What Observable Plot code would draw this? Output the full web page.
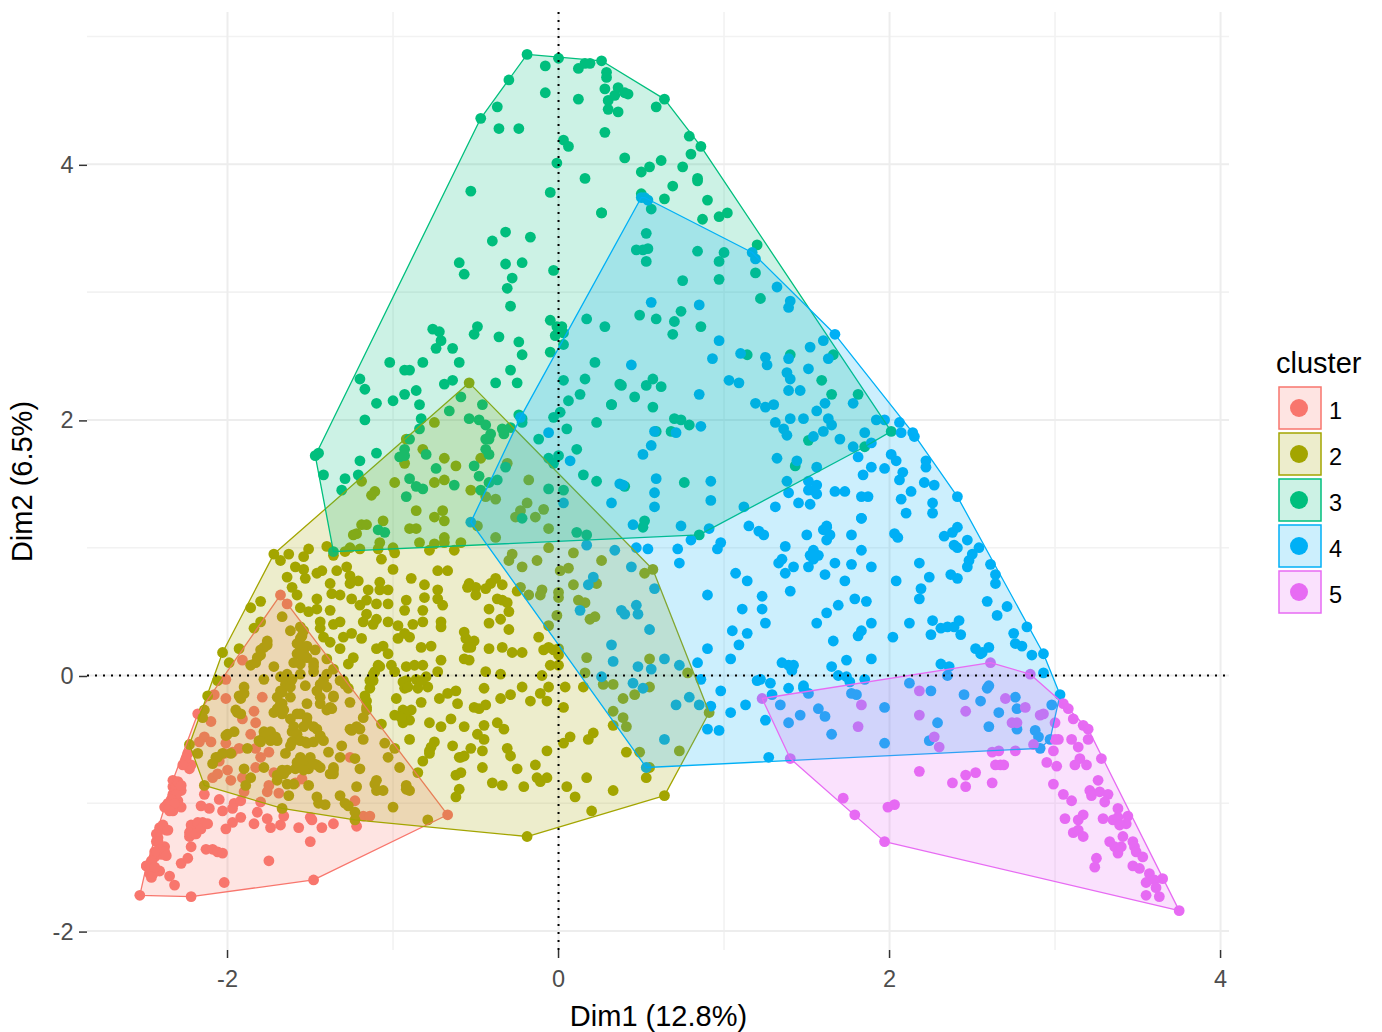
<!DOCTYPE html>
<html>
<head>
<meta charset="utf-8">
<script src="https://cdn.jsdelivr.net/npm/d3@7"></script>
<script src="https://cdn.jsdelivr.net/npm/@observablehq/plot@0.6"></script>
<style>
html,body{margin:0;padding:0;background:#fff;overflow:hidden}
#wrap{position:relative;width:1382px;height:1032px}
#legend{position:absolute;left:0;top:0;pointer-events:none}
</style>
</head>
<body>
<div id="wrap"></div>
<script>
const categories = ["1","2","3","4","5"];
const colors = ["#F8766D","#A3A500","#00BF7D","#00B0F6","#E76BF3"];
const majorTicks = [-2,0,2,4];
const minorX = [-1,1,3];
const minorY = [-1,1,3,5];
const xDomain = [-2.846,4.054];
const yDomain = [-2.152,5.188];
const xTitle = "Dim1 (12.8%)";
const yTitle = "Dim2 (6.5%)";
const legendTitle = "cluster";

const cluster1 = [[-2.53,-1.72],[-2.22,-1.73],[-1.48,-1.60],[-0.67,-1.09],[-1.64,0.56],[-1.68,0.63],[-1.91,0.12],[-2.01,-0.03],[-2.01,-0.18],[-2.08,-0.15],[-2.18,-0.30],[-2.10,-0.36],[-1.79,-0.17],[-1.84,-0.28],[-1.91,-0.34],[-1.83,-0.37],[-1.86,-0.46],[-2.14,-0.48],[-2.17,-0.52],[-2.10,-0.52],[-2.01,-0.53],[-2.02,-0.61],[-1.93,-0.57],[-1.97,-0.60],[-1.75,-0.60],[-1.80,-0.64],[-1.83,-0.57],[-1.26,-0.64],[-2.26,-0.69],[-2.22,-0.70],[-2.24,-0.61],[-2.05,-0.67],[-2.09,-0.80],[-2.06,-0.77],[-2.00,-0.74],[-1.98,-0.82],[-1.91,-0.80],[-1.83,-0.72],[-1.72,-0.76],[-1.55,-0.81],[-1.59,-0.84],[-1.75,-0.86],[-1.76,-0.91],[-1.69,-0.92],[-1.90,-0.91],[-2.31,-0.85],[-2.33,-0.93],[-2.28,-0.90],[-2.30,-0.98],[-2.35,-1.00],[-2.28,-1.03],[-2.33,-1.06],[-2.37,-1.02],[-2.14,-0.93],[-2.16,-1.02],[-2.11,-1.04],[-2.05,-0.97],[-1.96,-1.00],[-1.92,-0.98],[-1.97,-1.04],[-2.03,-1.06],[-1.80,-0.99],[-1.82,-1.07],[-1.76,-1.12],[-1.84,-1.16],[-1.74,-1.19],[-1.68,-1.17],[-1.66,-1.10],[-1.50,-1.11],[-1.49,-1.13],[-1.57,-1.19],[-1.43,-1.19],[-1.36,-1.16],[-1.22,-1.18],[-1.23,-0.98],[-1.18,-1.10],[-1.14,-1.10],[-1.92,-1.11],[-1.97,-1.15],[-2.01,-1.20],[-2.16,-1.16],[-2.19,-1.19],[-2.22,-1.21],[-2.23,-1.26],[-2.15,-1.15],[-2.20,-1.24],[-2.41,-1.19],[-2.37,-1.21],[-2.42,-1.27],[-2.43,-1.30],[-2.38,-1.34],[-2.40,-1.40],[-2.44,-1.42],[-2.46,-1.46],[-2.49,-1.49],[-2.47,-1.55],[-2.46,-1.58],[-2.41,-1.53],[-2.35,-1.57],[-2.32,-1.64],[-2.28,-1.47],[-2.24,-1.43],[-2.22,-1.34],[-2.13,-1.36],[-2.09,-1.36],[-2.06,-1.38],[-2.03,-1.39],[-1.50,-1.30],[-1.75,-1.45],[-2.02,-1.62],
[-2.33,-0.87],[-2.31,-0.93],[-2.34,-0.97],[-2.36,-1.00],[-2.32,-1.00],[-2.35,-1.06],[-2.38,-1.03],[-2.33,-0.82],[-2.30,-0.83],[-2.28,-0.86],[-2.41,-1.21],[-2.43,-1.24],[-2.39,-1.17],[-2.36,-1.21],[-2.42,-1.30],[-2.41,-1.36],[-2.38,-1.38],[-2.37,-1.41],[-2.44,-1.38],[-2.46,-1.45],[-2.49,-1.49],[-2.47,-1.51],[-2.45,-1.55],[-2.44,-1.50],[-2.22,-1.17],[-2.18,-1.15],[-2.14,-1.16],[-2.23,-1.23],[-2.19,-1.24],[-2.16,-1.20],[-2.12,-1.16],[-2.25,-0.65],[-2.23,-0.73],[-2.27,-0.70]];

const cluster2 = [[-1.72,0.95],[-1.68,0.90],[-1.63,0.95],[-1.51,0.99],[-1.54,0.93],[-1.40,1.01],[-1.36,0.94],[-1.07,0.91],[-1.00,0.83],[-0.78,0.98],[-0.63,0.98],[-1.59,0.85],[-1.54,0.83],[-1.64,0.77],[-1.53,0.76],[-1.46,0.80],[-1.43,0.82],[-1.34,0.82],[-1.28,0.85],[-1.26,0.78],[-1.21,0.74],[-1.26,0.72],[-1.38,0.72],[-0.89,0.76],[-0.81,0.71],[-0.73,0.82],[-0.67,0.82],[-1.61,0.69],[-1.58,0.63],[-1.37,0.64],[-1.32,0.63],[-1.15,0.67],[-1.08,0.73],[-1.08,0.67],[-1.03,0.67],[-0.73,0.67],[-0.81,0.61],[-0.73,0.60],[-0.70,0.55],[-1.80,0.58],[-1.86,0.53],[-1.56,0.53],[-1.46,0.60],[-1.46,0.52],[-1.25,0.60],[-1.20,0.55],[-1.16,0.59],[-1.10,0.56],[-1.03,0.56],[-0.92,0.59],[-0.93,0.51],[-0.82,0.51],[-0.71,0.42],[-0.71,0.38],[-1.51,0.50],[-1.38,0.51],[-1.44,0.42],[-1.32,0.42],[-1.36,0.40],[-1.16,0.48],[-1.10,0.44],[-1.18,0.42],[-1.12,0.40],[-1.03,0.42],[-0.97,0.39],[-0.88,0.40],[-0.82,0.42],[-1.67,0.46],[-1.80,0.42],[-1.84,0.37],[-1.62,0.35],[-1.54,0.35],[-1.56,0.29],[-1.44,0.37],[-1.30,0.30],[-1.25,0.33],[-1.19,0.29],[-0.97,0.29],[-0.90,0.30],[-0.93,0.33],[-1.42,0.30],[-1.38,0.26],[-1.76,0.27],[-1.56,0.22],[-1.58,0.17],[-1.52,0.23],[-1.47,0.20],[-1.32,0.21],[-1.10,0.21],[-1.06,0.23],[-1.03,0.17],[-0.83,0.22],[-0.77,0.23],[-0.71,0.12],[-2.03,0.18],[-1.93,0.21],[-1.99,0.10],[-1.80,0.20],[-1.82,0.14],[-1.86,0.08],[-1.40,0.13],[-1.24,0.14],[-1.27,0.09],[-1.09,0.08],[-1.11,0.03],[-1.01,0.08],[-0.99,0.03],[-0.92,0.07],[-0.87,0.08],[-0.82,0.08],[-0.73,0.03],[-1.72,0.07],[-1.56,0.09],[-1.48,0.10],[-1.64,0.01],[-1.56,0.01],[-1.48,0.03],[-1.36,0.05],[-1.30,-0.04],[-1.12,-0.04],[-0.92,-0.04],[-0.86,-0.03],[-0.79,-0.09],[-0.85,-0.10],[-0.93,-0.10],[-1.90,-0.09],[-1.78,-0.03],[-1.64,-0.07],[-1.53,-0.08],[-1.42,-0.04],[-1.40,-0.09],[-1.27,-0.10],[-1.67,-0.13],[-1.44,-0.17],[-1.14,-0.10],[-2.06,-0.04],[-2.12,-0.16],[-1.93,-0.16],[-1.90,-0.14],[-1.68,-0.22],[-1.62,-0.17],[-1.52,-0.22],[-1.36,-0.17],[-1.44,-0.22],[-1.40,-0.27],[-1.26,-0.21],[-1.16,-0.20],[-0.98,-0.18],[-0.83,-0.21],[-0.72,-0.18],[-0.67,-0.14],[-0.62,-0.12],[-2.14,-0.27],[-2.15,-0.33],[-1.94,-0.29],[-1.72,-0.29],[-1.67,-0.30],[-1.56,-0.30],[-1.52,-0.37],[-1.37,-0.26],[-1.16,-0.27],[-0.94,-0.27],[-0.89,-0.27],[-0.61,-0.22],[-1.96,-0.44],[-2.00,-0.46],[-1.78,-0.44],[-1.74,-0.44],[-1.81,-0.51],[-1.70,-0.51],[-1.61,-0.44],[-1.46,-0.42],[-1.44,-0.47],[-1.26,-0.42],[-1.18,-0.50],[-1.20,-0.42],[-1.07,-0.38],[-0.90,-0.35],[-0.94,-0.37],[-0.99,-0.31],[-0.65,-0.34],[-0.78,-0.37],[-0.71,-0.40],[-2.23,-0.54],[-2.18,-0.61],[-2.07,-0.64],[-1.98,-0.61],[-1.88,-0.57],[-1.65,-0.61],[-1.62,-0.55],[-1.53,-0.52],[-1.48,-0.52],[-1.31,-0.55],[-1.39,-0.60],[-1.32,-0.64],[-1.05,-0.53],[-0.99,-0.57],[-0.90,-0.50],[-0.75,-0.52],[-0.64,-0.55],[-0.78,-0.59],[-0.60,-0.64],[-0.82,-0.67],[-1.56,-0.64],[-1.52,-0.68],[-1.46,-0.70],[-1.36,-0.74],[-1.23,-0.65],[-1.20,-0.73],[-1.03,-0.64],[-0.96,-0.72],[-0.85,-0.76],[-1.90,-0.73],[-1.78,-0.72],[-1.67,-0.74],[-1.59,-0.73],[-1.51,-0.73],[-1.55,-0.69],[-1.36,-0.77],[-1.86,-0.80],[-1.70,-0.82],[-1.64,-0.74],[-0.62,-0.78],[-1.89,-0.86],[-1.60,-0.85],[-1.51,-0.86],[-1.22,-0.87],[-1.11,-0.85],[-1.06,-0.90],[-0.92,-0.86],[-0.90,-0.90],[-0.60,-0.89],[-0.62,-0.95],[-1.63,-0.94],[-1.46,-0.95],[-1.32,-0.94],[-1.29,-1.00],[-1.41,-1.01],[-1.45,-1.00],[-1.00,-1.03],[-1.23,-1.07],[-1.67,-1.04],[-0.79,-1.13],[-1.23,-1.13],[-2.14,-0.86],
[-0.54,2.29],[-0.75,1.98],[-0.92,1.85],[-0.82,1.77],[-0.93,1.66],[-0.69,1.70],[-0.62,1.64],[-0.47,1.70],[-0.99,1.51],[-0.75,1.51],[-0.69,1.53],[-0.53,1.45],[-1.11,1.44],[-1.13,1.41],[-1.19,1.52],[-0.86,1.29],[-0.70,1.29],[-0.75,1.24],[-0.69,1.21],[-1.06,1.21],[-1.19,1.18],[-1.16,1.18],[-1.22,1.11],[-1.24,1.10],[-0.90,1.15],[-0.86,1.15],[-1.08,1.04],[-0.84,1.04],[-0.69,1.08],[-0.69,1.04],[-0.75,1.03],[-0.59,1.04],[-1.09,0.99],[-1.00,1.00],[-1.26,1.00],[-1.20,0.99],[-1.29,0.97],[-0.99,0.96],
[-0.31,1.66],[-0.18,1.53],[-0.38,1.38],[-0.44,1.40],[-0.19,1.35],[-0.23,1.29],[-0.26,1.24],[-0.09,1.30],[-0.14,1.24],[-0.06,1.15],[-0.38,1.08],[-0.49,1.17],[-0.06,1.00],[0.09,0.96],[0.26,0.90],[-0.28,0.95],[-0.30,0.90],[-0.13,0.90],[-0.22,0.85],[0.01,0.82],[0.06,0.84],
[0.52,0.80],[0.57,0.83],[0.09,0.71],[0.23,0.72],[-0.10,0.67],[-0.11,0.63],[-0.18,0.63],[-0.23,0.69],[-0.25,0.66],[0,0.65],[0,0.61],[0.12,0.59],[0.16,0.57],[-0.01,0.47],[0.19,0.44],[0.22,0.46],[-0.06,0.39],[-0.38,0.76],[-0.54,0.72],[-0.50,0.69],[-0.50,0.63],[-0.55,0.69],[-0.44,0.68],[-0.41,0.72],[-0.34,0.71],[-0.37,0.60],[-0.34,0.59],[-0.31,0.57],[-0.30,0.50],[-0.35,0.44],[-0.42,0.52],[-0.42,0.41],[-0.30,0.36],[-0.57,0.34],[-0.56,0.29],[-0.51,0.27],[-0.55,0.22],[-0.53,0.22],[-0.42,0.21],[-0.34,0.22],[-0.28,0.18],[-0.22,0.18],[-0.12,0.30],[-0.09,0.20],[-0.06,0.22],[-0.03,0.20],[0,0.16],[0,0.21],[-0.05,0.08],[0,0.08],[-0.57,0.13],[-0.54,0.12],[-0.44,0.03],[-0.35,0.01],[-0.10,0],[0.16,0.02],[0.17,0.14],[0.55,0.13],[0.78,0.02],[0.55,-0.09],[0.46,-0.15],[0.27,-0.07],[0.33,-0.07],[0.39,-0.18],[0.15,-0.09],[0.04,-0.09],[-0.06,-0.09],[-0.11,-0.14],[-0.07,-0.20],[-0.22,-0.09],[-0.29,-0.15],[-0.35,-0.18],[-0.45,-0.10],[-0.17,-0.20],[-0.51,-0.25],[-0.48,-0.26],[-0.44,-0.23],[0.03,-0.25],[0.91,-0.29],[0.33,-0.28],[0.39,-0.33],[0.41,-0.40],[0.33,-0.39],[-0.45,-0.39],[-0.57,-0.40],[-0.37,-0.37],[-0.33,-0.42],[-0.49,-0.46],[-0.45,-0.50],[-0.53,-0.57],[-0.57,-0.63],[-0.59,-0.64],[-0.46,-0.59],[-0.31,-0.57],[-0.29,-0.63],[-0.07,-0.59],[0.07,-0.48],[0.03,-0.53],[0.21,-0.45],[0.18,-0.50],[0.41,-0.60],[0.49,-0.60],[0.73,-0.59],[0.55,-0.72],[0.53,-0.80],[-0.46,-0.72],[-0.59,-0.76],[-0.25,-0.73],[-0.14,-0.70],[-0.13,-0.80],[-0.11,-0.83],[-0.07,-0.80],[-0.40,-0.84],[-0.34,-0.86],[-0.21,-0.87],[0.17,-0.80],[0.05,-0.87],[0.10,-0.95],[0.33,-0.90],[0.64,-0.94],[0.20,-1.06],[-0.19,-1.26],
[-1.56,0.38],[-1.55,0.31],[-1.58,0.25],[-1.54,0.18],[-1.52,0.14],[-1.60,0.10],[-1.56,0.16],[-1.78,0.22],[-1.80,0.16],[-1.83,0.10],[-1.76,0.24],[-1.68,-0.01],[-1.65,-0.07],[-1.68,-0.12],[-1.70,-0.17],[-1.67,-0.22],[-1.70,-0.26],[-1.66,-0.27],[-1.62,-0.09],[-1.61,-0.03],[-1.58,-0.30],[-1.62,-0.34],[-1.60,-0.40],[-1.58,-0.46],[-1.61,-0.52],[-1.56,-0.51],[-1.52,-0.53],[-1.48,-0.40],[-1.44,-0.48],[-1.42,-0.51],[-1.52,-0.33],[-1.54,-0.40],[-1.40,0.01],[-1.44,-0.07],[-1.46,-0.12],[-1.36,-0.16],[-1.38,-0.25],[-1.32,-0.04],[-1.29,-0.07],[-1.48,0.07],[-1.92,-0.18],[-1.95,-0.27],[-1.92,-0.30],[-2.01,-0.47],[-1.78,-0.48],[-1.74,-0.51],[-1.80,-0.52],[-1.71,-0.48],[-1.58,-0.68],[-1.50,-0.64],[-1.54,-0.74],[-1.48,-0.69],[-1.44,-0.72],[-1.36,-0.72],[-1.38,-0.77],[-1.66,-0.77],[-1.70,-0.78],[-1.64,-0.85],[-2.06,-0.64],[-2.09,-0.69],[-2.03,-0.61],[-1.18,-0.33],[-1.16,-0.25],[-1.17,-0.16],[-1.22,-0.40],[-1.25,-0.43],[-1.14,-0.04],[-1.12,0.01],[-1.08,0.07],[-0.94,-0.05],[-0.91,-0.09],[-0.83,-0.04],[-0.80,-0.01],[-0.93,-0.30],[-0.95,-0.33],[-0.77,-0.56],[-0.78,-0.61],[-1.27,-1.02],[-1.10,-0.82],[-1.10,-0.90],[-0.92,-0.89]];

const cluster3 = [[-0.19,4.86],[0,4.83],[-0.08,4.77],[0.12,4.75],[0.16,4.79],[0.19,4.79],[0.26,4.81],[0.29,4.72],[0.29,4.68],[0.28,4.59],[-0.30,4.66],[-0.08,4.56],[0.12,4.51],[0.30,4.50],[0.34,4.54],[0.30,4.43],[0.36,4.41],[0.36,4.60],[-0.37,4.45],[-0.47,4.36],[-0.36,4.28],[-0.24,4.28],[0.28,4.25],[0.03,4.19],[0.06,4.14],[-0.01,4.01],[0.16,3.89],[-0.53,3.79],[-0.05,3.78],[0.26,3.62],[-0.32,3.47],[-0.40,3.40],[-0.17,3.43],[-0.60,3.23],[-0.32,3.22],[-0.22,3.23],[-0.03,3.17],[-0.57,3.14],[-0.28,3.11],[-0.31,3.03],[-0.29,2.89],[0.17,2.79],[0.28,2.73],[-0.05,2.78],[-0.01,2.73],[0.02,2.73],[-0.49,2.73],[-0.76,2.71],[-0.72,2.69],
[0.42,4.55],[0.40,4.56],[0.64,4.51],[0.59,4.45],[0.79,4.22],[0.86,4.14],[0.80,4.08],[0.40,4.05],[0.62,4.03],[0.55,3.98],[0.50,3.94],[0.75,3.98],[0.84,3.89],
[-0.51,2.67],[-0.36,2.65],[-0.24,2.61],[-0.22,2.51],[-0.71,2.62],[-0.74,2.56],[-0.64,2.56],[0,2.70],[0.03,2.68],[-0.02,2.66],[0.03,2.59],[-0.05,2.53],[-1.02,2.45],[-0.82,2.45],[-0.60,2.45],[0.22,2.45],[-0.93,2.39],[-0.90,2.39],[-0.29,2.39],[-1.20,2.32],[-1.17,2.24],[-0.69,2.28],[-0.64,2.31],[-0.38,2.29],[-0.25,2.29],[0.03,2.31],[0.16,2.32],[0.37,2.28],[-0.86,2.23],[-0.93,2.20],[-1.00,2.15],[-1.10,2.13],[-0.84,2.12],[-0.59,2.18],[-0.46,2.12],[-0.66,2.07],[0.13,2.20],[0.06,2.15],[0.32,2.12],[-0.24,2.04],[-0.22,2.01],[-0.22,1.98],[-0.03,2.02],[0.01,2.06],[-1.17,2.00],[-0.83,2.01],[-0.84,1.93],[-0.54,2.01],[-0.48,2.00],[-0.44,1.96],[-0.41,1.89],[-0.42,1.85],[-0.44,1.85],[-0.34,1.93],[-0.29,1.94],[-0.33,1.89],[0.23,1.98],[0.05,1.93],[-0.12,1.85],[-0.90,1.85],[-0.93,1.77],[-0.96,1.71],[-0.93,1.72],[-0.80,1.73],[-0.44,1.77],[-0.42,1.73],[0.11,1.77],[-1.10,1.74],[-1.45,1.74],[-1.47,1.72],[-1.20,1.68],[-0.06,1.70],[-0.03,1.66],[0,1.72],[-0.74,1.62],[-0.51,1.64],[-0.48,1.56],[-0.32,1.63],[0.15,1.57],[-1.42,1.57],[-1.29,1.54],[-1.21,1.57],[-0.90,1.54],[0.23,1.52],[-0.86,1.48],[-0.82,1.46],[-0.63,1.49],[-0.42,1.51],[-0.37,1.53],[-0.47,1.45],[-1.31,1.45],[-0.92,1.40],[-0.06,1.46],[0.03,1.45],[-0.22,1.23],[-1.09,1.14],[-1.05,1.12],[0.11,1.12],[0.17,1.10],[-1.36,0.97],
[0.50,3.77],[0.56,3.65],[0.64,3.73],[0.69,3.83],[0.84,3.87],[0.90,3.72],[0.87,3.57],[0.97,3.59],[1.02,3.62],[1.20,3.37],[0.26,3.62],[0.53,3.46],[0.47,3.33],[0.51,3.33],[0.54,3.34],[0.53,3.24],[0.84,3.32],[1.00,3.31],[0.97,3.24],[0.75,3.09],[0.97,3.10],[1.19,3.15],[1.22,2.95],[0.49,2.82],[0.59,2.79],[0.74,2.85],[0.70,2.77],[0.69,2.67],[0.86,2.73],[1.14,2.51],[1.40,2.51],[1.66,2.51],[1.59,2.31],[1.65,2.20],[1.81,2.20],[0.38,2.27],[0.53,2.27],[0.57,2.32],[0.62,2.26],[0.46,2.18],[0.32,2.12],[0.57,2.10],[0.70,2.01],[0.74,2.00],[0.79,1.96],[0.59,1.91],[0.68,1.91],[1.51,1.84],[1.85,1.79],[2.01,1.91],[1.43,1.64],[0.40,1.48],[0.76,1.51],[0.52,1.21],[0.51,1.16],[0.85,1.10]];

const cluster4 = [[0.52,3.74],[0.50,3.74],[0.54,3.72],[1.17,3.31],[1.19,3.26],[1.32,3.04],[1.40,2.93],[1.39,2.88],[1.67,2.67],[1.60,2.62],[1.52,2.57],[0.56,2.92],[0.85,2.90],[0.97,2.62],[0.93,2.48],[1.10,2.52],[1.25,2.49],[1.26,2.43],[1.39,2.48],[1.63,2.48],[1.51,2.40],[1.38,2.37],[1.40,2.32],[0.44,2.43],[1.03,2.31],[1.09,2.29],[1.39,2.23],[1.46,2.23],[0.85,2.20],[1.19,2.13],[1.25,2.10],[1.30,2.12],[1.61,2.13],[1.56,2.07],[1.78,2.13],[1.40,2.01],[1.48,2.01],[1.63,2.01],[1.65,1.96],[1.60,1.91],[1.31,1.98],[1.36,1.93],[1.38,1.88],[1.54,1.87],[1.70,1.85],[1.85,1.90],[1.92,2.00],[1.97,2.00],[2.06,1.98],[2.07,1.90],[2.14,1.90],[2.15,1.87],[1.78,1.79],[1.89,1.82],[1.81,1.71],[2.01,1.73],[2.04,1.68],[1.89,1.63],[1.97,1.62],[2.08,1.59],[2.06,1.53],[1.84,1.57],[1.44,1.68],[1.32,1.70],[1.56,1.63],[0.86,1.95],[0.71,1.90],[0.58,1.91],[0.56,1.80],[0.51,1.73],[0.59,1.54],[0.92,1.52],[0.58,1.43],[0.92,1.37],[0.58,1.32],[0.39,1.49],[0.32,1.35],[0.45,1.18],[0.74,1.17],[0.91,1.15],[1.12,1.32],[1.31,1.32],[1.38,1.52],[1.39,1.43],[1.45,1.35],[1.52,1.34],[1.51,1.52],[1.51,1.45],[1.56,1.49],[1.56,1.42],[1.54,1.45],[1.67,1.44],[1.73,1.44],[1.83,1.40],[1.87,1.40],[2.13,1.44],[2.07,1.38],[2.10,1.27],[1.83,1.23],[1.15,1.17],[1.21,1.13],[1.62,1.17],
[2.22,1.68],[2.22,1.63],[2.21,1.51],[2.27,1.49],[2.41,1.40],[2.26,1.35],[2.26,1.27],[2.41,1.16],[2.38,1.12],[2.33,1.09],[2.47,1.06],[2.54,1.00],[2.39,1.02],[2.41,1.00],[2.50,0.95],[2.48,0.90],[2.47,0.85],[2.61,0.87],[2.64,0.79],[2.64,0.72],[2.18,0.88],[2.24,0.77],[2.37,0.79],[2.41,0.76],[2.19,0.68],[2.18,0.60],[2.04,0.74],[2.59,0.58],[2.65,0.47],[2.26,0.43],[2.12,0.41],[2.42,0.43],[2.31,0.37],[2.35,0.38],[2.39,0.38],[2.25,0.32],[2.43,0.32],[2.02,0.30],[1.89,0.41],[1.83,0.35],[1.81,0.31],[1.66,0.27],[1.56,0.41],[1.62,0.49],[1.69,0.55],[1.79,0.60],[1.86,0.58],[1.73,0.74],[1.61,0.79],[1.89,0.85],[1.77,0.87],[1.67,0.88],[1.83,0.98],[2.03,1.11],[2.05,1.08],[1.77,1.10],[1.83,1.23],[1.62,1.16],[1.60,1.14],[1.64,1.10],[1.62,1.06],[1.50,1.10],[1.24,1.10],[0.98,1.04],[0.96,0.99],[1.37,1.01],[1.54,0.98],[1.52,0.94],[1.57,0.94],[1.54,0.91],[1.35,0.91],[1.33,0.88],[1.42,0.85],[1.37,0.80],[1.51,0.85],[0.73,0.88],[0.72,0.99],[1.07,0.80],[1.14,0.74],[1.40,0.66],[0.90,0.63],[1.23,0.62],[1.11,0.52],[1.23,0.52],[1.25,0.41],[1.05,0.35],[1.14,0.33],[1.09,0.24],[0.90,0.21],[1.04,0.13],[0.84,0.10],[0.80,1.06],[1.35,0.10],[1.42,0.08],[1.39,0.08],[1.41,0.04],[1.74,0.12],[1.89,0.13],[1.65,0.07],[1.69,0],[1.74,-0.01],[1.76,-0.05],[1.85,-0.03],[1.20,-0.04],[1.22,-0.03],[1.28,-0.06],[1.48,-0.08],[1.48,-0.10],[1.39,-0.10],[1.51,-0.14],[0.86,-0.03],[0.98,-0.12],[1.29,-0.15],[1.13,-0.23],[1.34,-0.23],[1.46,-0.31],[1.39,-0.37],[1.57,-0.26],[1.61,-0.32],[1.65,-0.46],[1.77,-0.14],[1.80,-0.15],[1.97,-0.25],[1.97,-0.53],[1.04,-0.29],[1.25,-0.35],[0.90,-0.42],[0.97,-0.43],[0.92,-0.24],[2.12,-0.06],[2.25,-0.12],[2.45,-0.15],[2.60,-0.08],[2.59,-0.10],[2.55,-0.20],[2.29,-0.37],[2.60,-0.40],[2.24,-0.51],[2.66,-0.29],[2.52,0.21],[2.55,0.17],[2.60,0.22],[2.56,0.18],[2.31,0.09],[2.36,0.07],[2.35,0],
[2.86,0.16],[2.93,0.17],[2.93,0.02],[3.03,-0.15],[2.98,-0.23],[2.76,-0.17],[2.77,-0.26],[2.77,-0.42],[2.88,-0.43],[2.90,-0.48],[2.97,-0.50],[2.91,-0.57],[1.27,-0.64],[2.71,0.54],[2.83,0.38],[2.75,0.33],[2.76,0.25],[2.80,0.23],
[0.17,1.02],[0.34,0.98],[0.47,1.00],[0.54,0.99],[0.44,0.85],[0.21,0.77],[0.18,0.71],[0.58,0.68],[0.13,0.51],[0.47,0.55],[0.48,0.48],[0.38,0.51],[0.40,0.48],[0.55,0.36],[0.32,0.24],[0.33,0.11],[0.48,0.07],[0.56,0.05],[0.64,0.13],[0.73,0.08],[0.26,-0.01],[0.45,-0.06],[0.51,-0.10],[0.79,-0.17],[0.71,-0.23],[0.85,-0.23],[0.64,-0.50],[0.53,-0.72],[-0.53,1.20],[-0.06,1.90],[0.07,1.68],[0.03,1.35],[0.37,1.50],[-0.23,2.02]];

const cluster5 = [[1.23,-0.18],[1.40,-0.65],[1.72,-0.96],[1.79,-1.09],[1.97,-1.30],[3.75,-1.84],[3.65,-1.59],[2.61,0.10],[2.85,0.01],[2.18,-0.12],[1.83,-0.23],[2.18,-0.31],[1.81,-0.40],[2.27,-0.48],[2.30,-0.56],[2.46,-0.28],[2.70,-0.18],[2.82,-0.25],[2.93,-0.30],[2.91,-0.31],[3.00,-0.37],[2.74,-0.37],[2.77,-0.37],[2.87,-0.54],[2.62,-0.60],[2.66,-0.59],[2.76,-0.59],[2.18,-0.75],[2.64,-0.70],[2.67,-0.70],[2.69,-0.70],[2.46,-0.78],[2.52,-0.76],[2.38,-0.84],[2.46,-0.87],[2.62,-0.84],[1.99,-1.03],[2.03,-1.01],[3.05,-0.22],[3.08,-0.26],[3.11,-0.34],[3.17,-0.39],[3.20,-0.42],[3.20,-0.50],[3.02,-0.50],[3.00,-0.50],[3.10,-0.50],[3.14,-0.56],[2.99,-0.59],[3.28,-0.65],[3.15,-0.65],[3.12,-0.70],[3.19,-0.70],[2.95,-0.68],[3.01,-0.71],[2.99,-0.85],[3.26,-0.82],[3.05,-0.93],[3.10,-0.98],[3.21,-0.90],[3.22,-0.94],[3.27,-0.91],[3.32,-0.93],[3.30,-0.99],[3.38,-1.04],[3.29,-1.12],[3.35,-1.13],[3.38,-1.11],[3.44,-1.10],[3.43,-1.16],[3.39,-1.17],[3.41,-1.26],[3.33,-1.30],[3.06,-1.12],[3.17,-1.09],[3.14,-1.13],[3.11,-1.23],[3.14,-1.21],[3.17,-1.26],[3.47,-1.30],[3.48,-1.34],[3.49,-1.38],[3.53,-1.42],[3.36,-1.34],[3.38,-1.39],[3.40,-1.34],[3.25,-1.43],[3.24,-1.50],[3.47,-1.49],[3.51,-1.51],[3.57,-1.55],[3.55,-1.62],[3.60,-1.60],[3.61,-1.66],[3.55,-1.72],[3.63,-1.73]];

const clusters = [cluster1,cluster2,cluster3,cluster4,cluster5];
const font = "'Liberation Sans', Arial, sans-serif";

const chart = Plot.plot({
  width:1382,height:1032,
  marginLeft:87,marginRight:153,marginTop:12,marginBottom:82,
  style:{fontFamily:font,background:"#fff"},
  x:{domain:xDomain},
  y:{domain:yDomain},
  marks:[
    Plot.ruleX(minorX,{stroke:"#F2F2F2",strokeWidth:1.6}),
    Plot.ruleY(minorY,{stroke:"#F2F2F2",strokeWidth:1.6}),
    Plot.ruleX(majorTicks,{stroke:"#EDEDED",strokeWidth:2}),
    Plot.ruleY(majorTicks,{stroke:"#EDEDED",strokeWidth:2}),
    ...clusters.map((c,i)=>Plot.dot(c,{x:d=>d[0],y:d=>d[1],r:5.4,fill:colors[i],stroke:"none"})),
    ...clusters.map((c,i)=>Plot.hull(c,{x:d=>d[0],y:d=>d[1],fill:colors[i],fillOpacity:0.2,stroke:colors[i],strokeWidth:1.3})),
    Plot.ruleX([0],{stroke:"#000",strokeWidth:2,strokeDasharray:"2,6"}),
    Plot.ruleY([0],{stroke:"#000",strokeWidth:2,strokeDasharray:"2,6"}),
    Plot.axisX({ticks:majorTicks,tickSize:8,tickPadding:12,fontSize:23.5,stroke:"#333",strokeWidth:1.5,fill:"#4D4D4D",label:null,tickFormat:d=>String(d)}),
    Plot.axisY({ticks:majorTicks,tickSize:8,tickPadding:6,fontSize:23.5,stroke:"#333",strokeWidth:1.5,fill:"#4D4D4D",label:null,dy:1,tickFormat:d=>String(d)}),
    Plot.text([xTitle],{frameAnchor:"bottom",dy:75,fontSize:29,fill:"#000"}),
    Plot.text([yTitle],{frameAnchor:"left",textAnchor:"middle",dx:-65,rotate:-90,fontSize:29,fill:"#000"})
  ]
});
document.getElementById("wrap").appendChild(chart);

const lg = d3.select("#wrap").append("svg").attr("id","legend").attr("width",1382).attr("height",1032)
  .style("font-family",font);
lg.append("text").attr("x",1276).attr("y",373).attr("font-size",29).attr("fill","#000").text(legendTitle);
categories.forEach((c,i)=>{
  const y0 = 387+46*i;
  lg.append("rect").attr("x",1279).attr("y",y0).attr("width",42).attr("height",42)
    .attr("fill",colors[i]).attr("fill-opacity",0.2).attr("stroke",colors[i]).attr("stroke-width",1.5);
  lg.append("circle").attr("cx",1299).attr("cy",y0+21).attr("r",9).attr("fill",colors[i]);
  lg.append("text").attr("x",1329).attr("y",y0+32).attr("font-size",23.5).attr("fill","#000").text(c);
});
</script>
</body>
</html>
